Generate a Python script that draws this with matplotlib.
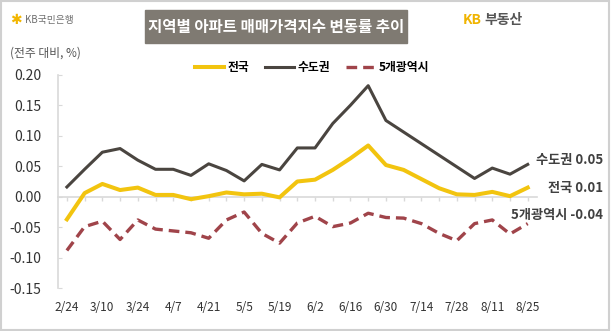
import numpy as np
import matplotlib
matplotlib.use('Agg')
import matplotlib.pyplot as plt
import matplotlib.transforms as mtransforms
from matplotlib.patches import Rectangle

plt.rcParams['font.family'] = ['Noto Sans CJK KR', 'DejaVu Sans']

# 주간 날짜 (2/24 ~ 8/25)
weeks = ['2/24', '3/3', '3/10', '3/17', '3/24', '3/31', '4/7', '4/14', '4/21',
         '4/28', '5/5', '5/12', '5/19', '5/26', '6/2', '6/9', '6/16', '6/23',
         '6/30', '7/7', '7/14', '7/21', '7/28', '8/4', '8/11', '8/18', '8/25']

# 전주 대비 변동률 (%)
nation = [-0.037, 0.006, 0.021, 0.011, 0.015, 0.003, 0.003, -0.004, 0.001,
          0.007, 0.004, 0.005, -0.001, 0.025, 0.028, 0.044, 0.063, 0.084,
          0.052, 0.044, 0.029, 0.014, 0.004, 0.003, 0.008, 0.001, 0.015]
capital = [0.016, 0.045, 0.073, 0.079, 0.060, 0.045, 0.045, 0.035, 0.054,
           0.043, 0.026, 0.053, 0.044, 0.080, 0.080, 0.120, 0.150, 0.182,
           0.125, 0.106, 0.087, 0.068, 0.049, 0.030, 0.047, 0.037, 0.053]
metro = [-0.088, -0.049, -0.040, -0.070, -0.038, -0.053, -0.056, -0.059, -0.068,
         -0.038, -0.025, -0.060, -0.076, -0.043, -0.032, -0.049, -0.043, -0.027,
         -0.034, -0.035, -0.044, -0.060, -0.072, -0.044, -0.038, -0.061, -0.044]

yticks = [-0.15, -0.10, -0.05, 0.00, 0.05, 0.10, 0.15, 0.20]
end_labels = ['수도권 0.05', '전국 0.01', '5개광역시 -0.04']
end_label_y = [0.061, 0.015, -0.030]

c_nation = '#f2c40f'
c_capital = '#4a4540'
c_metro = '#a0444a'
c_axis = '#d9d9d9'

fig = plt.figure(figsize=(6.11, 3.31), dpi=100)
ax = fig.add_axes([0.0944, 0.129, 0.7838, 0.6453])

x = np.arange(len(weeks))
ax.plot(x, nation, color=c_nation, lw=2.9, label='전국', zorder=4,
        solid_joinstyle='round')
ax.plot(x, capital, color=c_capital, lw=2.2, label='수도권', zorder=3,
        solid_joinstyle='round')
ax.plot(x, metro, color=c_metro, lw=2.4, ls=(0, (3.2, 1.8)), label='5개광역시',
        zorder=3)

ax.set_xlim(-0.52, 26.5)
ax.set_ylim(-0.15, 0.20)
ax.set_yticks(yticks)
ax.set_yticklabels(['%.2f' % v for v in yticks])
ax.set_xticks(x[::2])
ax.set_xticklabels(weeks[::2])
ax.tick_params(axis='x', length=0, pad=9, labelsize=8.5, labelcolor='#333333')
ax.tick_params(axis='y', direction='in', length=3, color=c_axis, pad=12,
               labelsize=10, labelcolor='#333333')
for s in ['top', 'right', 'bottom']:
    ax.spines[s].set_visible(False)
ax.spines['left'].set_color(c_axis)
ax.spines['left'].set_linewidth(1.2)

# 0 기준선 (주 단위 눈금)
sec = ax.secondary_xaxis(0, transform=ax.transData)
sec.set_xticks(x)
sec.tick_params(length=3, color=c_axis, labelbottom=False, width=1)
sec.spines['bottom'].set_color(c_axis)
sec.spines['bottom'].set_linewidth(1.2)

# 범례
fig.legend(loc='center', bbox_to_anchor=(312 / 611, 1 - 68 / 331), ncol=3,
           frameon=False, prop={'weight': 'bold', 'size': 8.5},
           handlelength=2.4, columnspacing=1.4, handletextpad=0.3)

# 우측 라벨
trans = mtransforms.blended_transform_factory(fig.transFigure, ax.transData)
for lab, yy in zip(end_labels, end_label_y):
    ax.text(603 / 611, yy, lab, transform=trans, ha='right', va='center',
            fontsize=9.5, fontweight='bold', color='#404040', clip_on=False)

# 제목
fig.patches.append(Rectangle((145 / 611, 1 - 43 / 331), 262 / 611, 33 / 331,
                             transform=fig.transFigure, color='#7f7a72'))
fig.text(276 / 611, 1 - 27 / 331, '지역별 아파트 매매가격지수 변동률 추이',
         ha='center', va='center', color='white', fontsize=11.2,
         fontweight='bold')

# 로고
fig.text(10 / 611, 1 - 20 / 331, '✱', ha='left', va='center', color='#f2b600',
         fontsize=10, family=['DejaVu Sans'])
fig.text(25 / 611, 1 - 20 / 331, 'KB국민은행', ha='left', va='center',
         color='#6e6e6e', fontsize=7)
fig.text(463 / 611, 1 - 20 / 331, 'KB', ha='left', va='center',
         color='#f0b400', fontsize=10, fontweight='bold')
fig.text(484 / 611, 1 - 20 / 331, '부동산', ha='left', va='center',
         color='#555555', fontsize=10, fontweight='bold')
fig.text(10 / 611, 1 - 53 / 331, '(전주 대비, %)', ha='left', va='center',
         color='#555555', fontsize=8.5)

# 외곽선
fig.patches.append(Rectangle((0.002, 0.003), 0.995, 0.993,
                             transform=fig.transFigure, fill=False,
                             edgecolor='#d0d0d0', linewidth=1.5))

fig.savefig('out.png', dpi=100)
